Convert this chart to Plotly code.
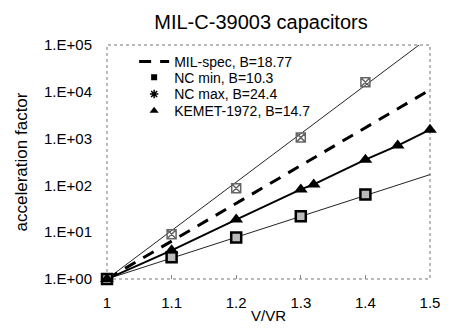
import plotly.graph_objects as go

# ---- data ----
x_ticks = [1.0, 1.1, 1.2, 1.3, 1.4, 1.5]
x_ticktext = ["1", "1.1", "1.2", "1.3", "1.4", "1.5"]
y_ticks = [1, 10, 100, 1000, 10000, 100000]
y_ticktext = ["1.E+00", "1.E+01", "1.E+02", "1.E+03", "1.E+04", "1.E+05"]

# straight model lines (end points)
line_x = [1.0, 1.5]
mil_spec_y = [1.0, 11000.0]
nc_min_line_y = [1.0, 170.0]
nc_max_line_y = [1.0, 150000.0]

# measured points
nc_min_x = [1.0, 1.1, 1.2, 1.3, 1.4]
nc_min_y = [1.0, 2.9, 7.7, 22.0, 64.0]
nc_max_x = [1.1, 1.2, 1.3, 1.4]
nc_max_y = [9.0, 87.0, 1050.0, 16000.0]
kemet_x = [1.0, 1.1, 1.2, 1.3, 1.32, 1.4, 1.45, 1.5]
kemet_y = [1.0, 4.1, 18.6, 82.0, 105.0, 355.0, 710.0, 1550.0]

series_names = ["MIL-spec, B=18.77", "NC min, B=10.3", "NC max, B=24.4", "KEMET-1972, B=14.7"]

FONT = "Liberation Sans, Arial, sans-serif"

fig = go.Figure()

# model lines
fig.add_trace(go.Scatter(x=line_x, y=nc_max_line_y, mode="lines",
                         line=dict(color="#222", width=1), showlegend=False, hoverinfo="skip"))
fig.add_trace(go.Scatter(x=line_x, y=nc_min_line_y, mode="lines",
                         line=dict(color="#222", width=1), showlegend=False, hoverinfo="skip"))
fig.add_trace(go.Scatter(x=kemet_x, y=kemet_y, mode="lines",
                         line=dict(color="#000", width=2), showlegend=False, hoverinfo="skip"))
fig.add_trace(go.Scatter(x=line_x, y=mil_spec_y, mode="lines", name=series_names[0],
                         line=dict(color="#000", width=3, dash="12px,9px"), legend="legend"))

# measured points
fig.add_trace(go.Scatter(x=nc_min_x, y=nc_min_y, mode="markers", name=series_names[1],
                         marker=dict(symbol="square", size=10, color="#bbb",
                                     line=dict(color="#000", width=2.5)),
                         cliponaxis=False, showlegend=False))
fig.add_trace(go.Scatter(x=nc_max_x, y=nc_max_y, mode="markers", name=series_names[2],
                         marker=dict(symbol="square-x-open", size=9, color="#666",
                                     line=dict(width=1.5)),
                         cliponaxis=False, showlegend=False))
fig.add_trace(go.Scatter(x=kemet_x, y=kemet_y, mode="markers", name=series_names[3],
                         marker=dict(symbol="triangle-up", size=12, color="#000"),
                         cliponaxis=False, showlegend=False))

# legend keys with the small symbols of the reference legend
fig.add_trace(go.Scatter(x=[None], y=[None], mode="markers", name=series_names[1],
                         marker=dict(symbol="square", size=6, color="#000"), legend="legend2"))
fig.add_trace(go.Scatter(x=[None], y=[None], mode="markers", name=series_names[2],
                         marker=dict(symbol="asterisk-open", size=7, color="#000",
                                     line=dict(width=1.5, color="#000")), legend="legend3"))
fig.add_trace(go.Scatter(x=[None], y=[None], mode="markers", name=series_names[3],
                         marker=dict(symbol="triangle-up", size=8, color="#000"), legend="legend4"))

PLOT_TOP, PLOT_BOTTOM = 45, 282
def leg(ypix):
    return dict(x=0.084, y=(PLOT_BOTTOM - ypix) / (PLOT_BOTTOM - PLOT_TOP),
                xanchor="left", yanchor="middle", bgcolor="rgba(0,0,0,0)",
                font=dict(size=14, family=FONT, color="#000"), borderwidth=0)

fig.update_layout(
    width=452, height=334,
    margin=dict(l=107, r=13, t=45, b=52),
    paper_bgcolor="white", plot_bgcolor="white",
    font=dict(family=FONT, size=15, color="#000"),
    title=dict(text="MIL-C-39003 capacitors", x=261 / 452, xanchor="center", xref="container",
               y=1 - 22 / 334, yanchor="middle", yref="container",
               font=dict(size=20, family=FONT, color="#000")),
    showlegend=True,
    legend=leg(62), legend2=leg(78), legend3=leg(95), legend4=leg(112),
    xaxis=dict(range=[1.0, 1.5], tickvals=x_ticks, ticktext=x_ticktext,
               showgrid=False, zeroline=False, showline=False,
               ticks="inside", ticklen=4, tickcolor="#888",
               ticklabelstandoff=13, tickfont=dict(size=15),
               title=dict(text="V/VR", font=dict(size=15), standoff=0)),
    yaxis=dict(type="log", range=[0, 5], tickvals=y_ticks, ticktext=y_ticktext,
               showgrid=False, zeroline=False, showline=False,
               ticks="", ticklabelstandoff=14, tickfont=dict(size=15),
               title=dict(text="acceleration factor", font=dict(size=17), standoff=12)),
    shapes=[dict(type="rect", xref="paper", yref="paper", x0=0, y0=0, x1=1, y1=1,
                 line=dict(color="#777", width=1, dash="dot"), layer="below")],
)

fig.write_html("out.html")
